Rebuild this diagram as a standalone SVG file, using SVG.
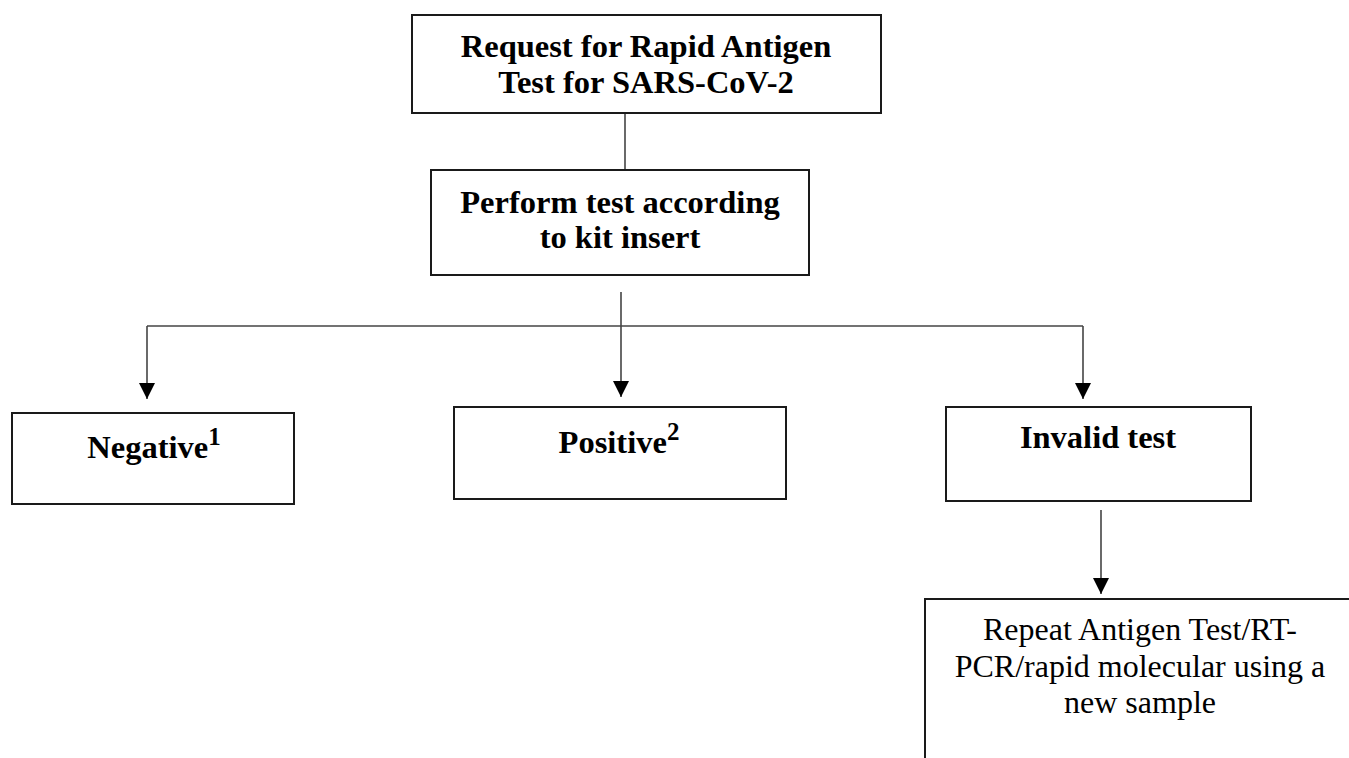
<svg xmlns="http://www.w3.org/2000/svg" width="1349" height="758" viewBox="0 0 1349 758">
<style>
  .box { fill: #ffffff; stroke: #1a1a1a; stroke-width: 2; }
  .bold { font-family: "Liberation Serif", "Times New Roman", serif; font-weight: bold; font-size: 32.5px; fill: #000; text-anchor: middle; }
  .reg { font-family: "Liberation Serif", "Times New Roman", serif; font-size: 32px; fill: #000; text-anchor: middle; }
  .sup { font-size: 25px; }
  .line { stroke: #444; stroke-width: 1.6; fill: none; }
</style>
<defs>
  <marker id="arrow" markerUnits="userSpaceOnUse" markerWidth="16" markerHeight="16" refX="16" refY="8" orient="auto">
    <path d="M0,0 L16,8 L0,16 Z" fill="#000"/>
  </marker>
</defs>
<rect width="1349" height="758" fill="#ffffff"/>

<g id="connectors">
  <line class="line" x1="625" y1="113" x2="625" y2="170"/>
  <line class="line" x1="147" y1="326" x2="1083" y2="326"/>
  <line class="line" x1="147" y1="326" x2="147" y2="399" marker-end="url(#arrow)"/>
  <line class="line" x1="621" y1="292" x2="621" y2="397" marker-end="url(#arrow)"/>
  <line class="line" x1="1083" y1="326" x2="1083" y2="399" marker-end="url(#arrow)"/>
  <line class="line" x1="1101" y1="510" x2="1101" y2="594" marker-end="url(#arrow)"/>
</g>

<g id="node-request">
  <rect class="box" x="412" y="15" width="469" height="98"/>
  <text class="bold" x="646" y="57">Request for Rapid Antigen</text>
  <text class="bold" x="646" y="93">Test for SARS-CoV-2</text>
</g>

<g id="node-perform">
  <rect class="box" x="431" y="170" width="378" height="105"/>
  <text class="bold" x="620" y="213">Perform test according</text>
  <text class="bold" x="620" y="248">to kit insert</text>
</g>

<g id="node-negative">
  <rect class="box" x="12" y="413" width="282" height="91"/>
  <text class="bold" x="154" y="458">Negative<tspan class="sup" dy="-13">1</tspan></text>
</g>

<g id="node-positive">
  <rect class="box" x="454" y="407" width="332" height="92"/>
  <text class="bold" x="619" y="453">Positive<tspan class="sup" dy="-13">2</tspan></text>
</g>

<g id="node-invalid">
  <rect class="box" x="946" y="407" width="305" height="94"/>
  <text class="bold" x="1098" y="448">Invalid test</text>
</g>

<g id="node-repeat">
  <rect class="box" x="925" y="599" width="440" height="200"/>
  <text class="reg" x="1140" y="640">Repeat Antigen Test/RT-</text>
  <text class="reg" x="1140" y="677">PCR/rapid molecular using a</text>
  <text class="reg" x="1140" y="713">new sample</text>
</g>
</svg>
